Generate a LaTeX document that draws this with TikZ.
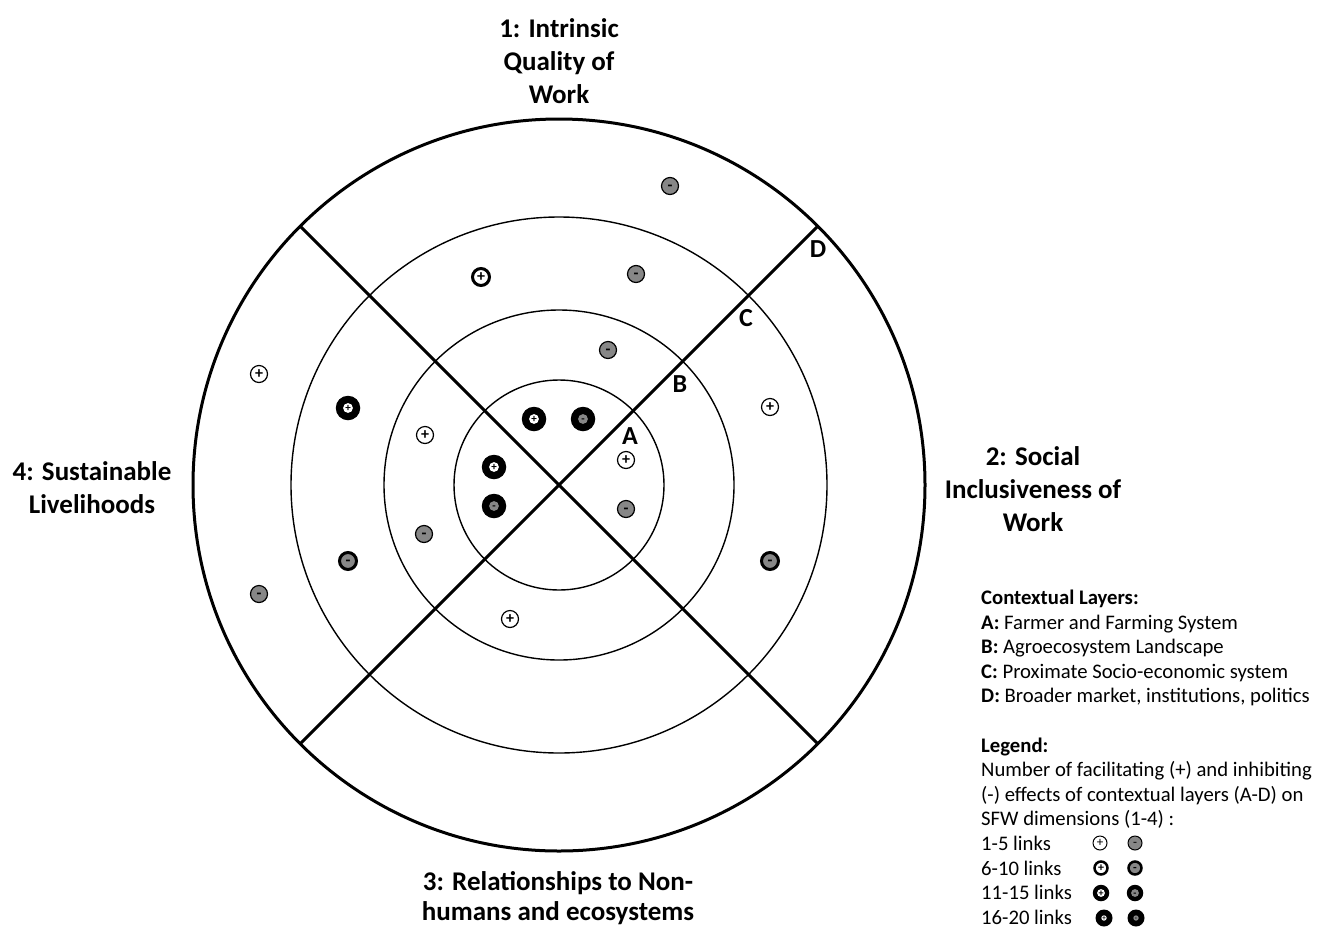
\documentclass[tikz,border=0pt]{standalone}
\usepackage{fontspec}
\setmainfont{Carlito}
\definecolor{dotgray}{RGB}{135,135,135}
\begin{document}
\begin{tikzpicture}[x=1pt,y=-1pt,
  thinring/.style={line width=1.4pt},
  outerring/.style={line width=3pt},
  divider/.style={line width=3pt},
  dimlabel/.style={font=\bfseries\fontsize{27}{33}\selectfont, align=center, inner sep=0pt},
  layerlabel/.style={font=\bfseries\fontsize{26}{28}\selectfont, inner sep=0pt},
  legtxt/.style={font=\fontsize{20.7}{24.6}\selectfont, anchor=base west, inner sep=0pt},
  sgnbase/.style={circle, draw=black, inner sep=0pt, text depth=0pt},
  blackdot/.style n args={3}{circle, draw=none, fill=black, inner sep=0pt, text depth=0pt,
     minimum size=#2, path picture={\fill[#1] (path picture bounding box.center) circle[radius=#3];}},
  pA/.style={sgnbase, fill=white, line width=1.2pt, minimum size=17pt, font=\bfseries\fontsize{16}{16}\selectfont, text height=9.6pt},
  mA/.style={pA, fill=dotgray},
  pB/.style={sgnbase, fill=white, line width=3pt, minimum size=17pt, font=\bfseries\fontsize{16}{16}\selectfont, text height=9.6pt},
  mB/.style={pB, fill=dotgray},
  pC/.style={blackdot={white}{24.5pt}{4.9pt}, font=\bfseries\fontsize{11}{11}\selectfont, text height=6.6pt},
  mC/.style={blackdot={dotgray}{24.5pt}{4.9pt}, font=\bfseries\fontsize{11}{11}\selectfont, text height=6.6pt},
  lpA/.style={sgnbase, fill=white, line width=1pt, minimum size=14pt, font=\fontsize{13}{13}\selectfont, text height=7.8pt},
  lmA/.style={lpA, fill=dotgray},
  lpB/.style={sgnbase, fill=white, line width=2.5pt, minimum size=13pt, font=\bfseries\fontsize{12}{12}\selectfont, text height=7.2pt},
  lmB/.style={lpB, fill=dotgray},
  lpC/.style={blackdot={white}{16.5pt}{3.9pt}, font=\bfseries\fontsize{10}{10}\selectfont, text height=6pt},
  lmC/.style={blackdot={dotgray}{16.5pt}{3.9pt}, font=\bfseries\fontsize{10}{10}\selectfont, text height=6pt},
  lpD/.style={blackdot={white}{17pt}{2.7pt}, font=\bfseries\fontsize{7}{7}\selectfont, text height=4.2pt},
  lmD/.style={blackdot={dotgray}{17pt}{2.7pt}, font=\bfseries\fontsize{7}{7}\selectfont, text height=4.2pt},
]
\useasboundingbox (0,0) rectangle (1317,927);
\fill[white] (0,0) rectangle (1317,927);

% centre and rings
\coordinate (O) at (559,485);
\draw[thinring] (O) circle[radius=105];
\draw[thinring] (O) circle[radius=175];
\draw[thinring] (O) circle[radius=268];
\draw[outerring] (O) circle[radius=366];

% dividers
\coordinate (nw) at (300.2,226.2);
\coordinate (se) at (817.8,743.8);
\coordinate (ne) at (817.8,226.2);
\coordinate (sw) at (300.2,743.8);
\draw[divider] (nw) -- (se);
\draw[divider] (sw) -- (ne);

% layer labels
\node[layerlabel] (lA) at (630,436) {A};
\node[layerlabel] (lB) at (680,384) {B};
\node[layerlabel] (lC) at (746,318) {C};
\node[layerlabel] (lD) at (818,249) {D};

% dimension labels
\node[dimlabel] (d1) at (559,61) {1: Intrinsic\\Quality of\\Work};
\node[dimlabel] (d2) at (1033,489) {2: Social\\Inclusiveness of\\Work};
\node[dimlabel, font=\bfseries\fontsize{27}{30}\selectfont] (d3) at (558,898) {3: Relationships to Non-\\humans and ecosystems};
\node[dimlabel] (d4) at (92,488) {4: Sustainable\\Livelihoods};

% dots - dimension 1
\node[mA] (a1) at (670,186) {-};
\node[pB] (a2) at (481,277) {+};
\node[mA] (a3) at (636,274) {-};
\node[mA] (a4) at (608,350) {-};
\node[pC] (a5) at (534,419) {+};
\node[mC] (a6) at (583,419) {-};
% dimension 2
\node[pA] (b1) at (770,407) {+};
\node[pA] (b2) at (626,460) {+};
\node[mA] (b3) at (626,509) {-};
\node[mB] (b4) at (770,561) {-};
% dimension 4
\node[pA] (c1) at (259,374) {+};
\node[pC] (c2) at (348,408) {+};
\node[pA] (c3) at (425,435) {+};
\node[pC] (c4) at (494,467) {+};
\node[mC] (c5) at (494,506) {-};
\node[mA] (c6) at (424,534) {-};
\node[mB] (c7) at (348,561) {-};
\node[mA] (c8) at (259,594) {-};
% dimension 3
\node[pA] (e1) at (510,619) {+};

% legend text
\node[legtxt] (g1) at (981,604.5) {\bfseries Contextual Layers:};
\node[legtxt] (g2) at (981,629.1) {\textbf{A:} Farmer and Farming System};
\node[legtxt] (g3) at (981,653.7) {\textbf{B:} Agroecosystem Landscape};
\node[legtxt] (g4) at (981,678.3) {\textbf{C:} Proximate Socio-economic system};
\node[legtxt] (g5) at (981,702.9) {\textbf{D:} Broader market, institutions, politics};
\node[legtxt] (g6) at (981,752.1) {\bfseries Legend:};
\node[legtxt] (g7) at (981,776.7) {Number of facilitating (+) and inhibiting};
\node[legtxt] (g8) at (981,801.3) {(-) effects of contextual layers (A-D) on};
\node[legtxt] (g9) at (981,825.9) {SFW dimensions (1-4) :};
\node[legtxt] (g10) at (981,850.5) {1-5 links};
\node[legtxt] (g11) at (981,875.1) {6-10 links};
\node[legtxt] (g12) at (981,899.7) {11-15 links};
\node[legtxt] (g13) at (981,924.3) {16-20 links};

% legend symbols
\node[lpA] (s1p) at (1100,843) {+};
\node[lmA] (s1m) at (1135,843) {-};
\node[lpB] (s2p) at (1101,868) {+};
\node[lmB] (s2m) at (1135,868) {-};
\node[lpC] (s3p) at (1101,893) {+};
\node[lmC] (s3m) at (1135,893) {-};
\node[lpD] (s4p) at (1104,918) {+};
\node[lmD] (s4m) at (1136,918) {-};
\end{tikzpicture}
\end{document}
